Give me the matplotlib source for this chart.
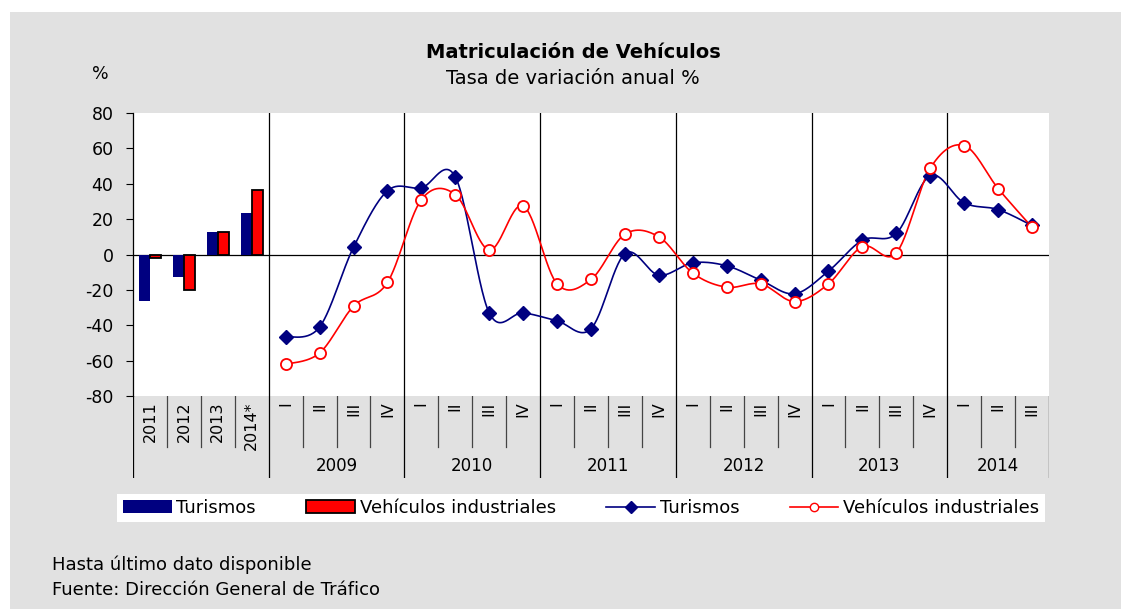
import numpy as np
import matplotlib
matplotlib.use("Agg")
import matplotlib.pyplot as plt
from matplotlib.patches import Rectangle, Patch
from matplotlib.lines import Line2D

plt.rcParams['font.family'] = ['DejaVu Sans']
plt.rcParams['axes.unicode_minus'] = False

# datos anuales (barras)
annual_labels = ["2011", "2012", "2013", "2014*"]
bar_turismos = [-26.4, -12.8, 12.8, 23.5]
bar_industriales = [-2.0, -20.0, 13.0, 36.7]

# datos trimestrales (lineas)
years = ["2009", "2010", "2011", "2012", "2013", "2014"]
quarters_per_year = [4, 4, 4, 4, 4, 3]
quarter_names = ["I", "II", "III", "IV"]
line_turismos = [-46.7, -41.0, 4.1, 36.0,
                 37.7, 43.9, -33.0, -33.0,
                 -37.5, -42.0, 0.5, -11.7,
                 -4.7, -6.4, -14.5, -22.2,
                 -9.4, 8.1, 11.9, 44.6,
                 29.2, 25.4, 16.4]
line_industriales = [-62.1, -55.7, -29.2, -15.8,
                     31.0, 33.9, 2.6, 27.5,
                     -16.6, -14.1, 11.5, 10.0,
                     -10.5, -18.5, -16.6, -26.6,
                     -16.6, 4.5, 0.9, 48.8,
                     61.6, 37.3, 15.4]

NAVY = "#000080"
RED = "#FF0000"
BG = "#E1E1E1"

W, H = 1121, 609


def smooth(x, y, n=30):
    # curva suavizada tipo Excel (Bezier con puntos de control)
    x = np.asarray(x, float)
    y = np.asarray(y, float)
    px = np.concatenate([[x[0]], x, [x[-1]]])
    py = np.concatenate([[y[0]], y, [y[-1]]])
    xs, ys = [], []
    t = np.linspace(0, 1, n)
    for i in range(len(x) - 1):
        p0 = np.array([px[i + 1], py[i + 1]])
        p3 = np.array([px[i + 2], py[i + 2]])
        c1 = p0 + (p3 - np.array([px[i], py[i]])) / 6
        c2 = p3 - (np.array([px[i + 3], py[i + 3]]) - p0) / 6
        b = ((1 - t) ** 3)[:, None] * p0 + (3 * (1 - t) ** 2 * t)[:, None] * c1 \
            + (3 * (1 - t) * t ** 2)[:, None] * c2 + (t ** 3)[:, None] * p3
        xs.append(b[:, 0])
        ys.append(b[:, 1])
    return np.concatenate(xs), np.concatenate(ys)


fig = plt.figure(figsize=(W / 100, H / 100), dpi=100, facecolor="white")
fig.patches.append(Rectangle((10 / W, 0), 1, 1 - 12 / H, transform=fig.transFigure,
                             facecolor=BG, edgecolor="none", zorder=-10))

left, right = 133 / W, 1049 / W
top, bot = 1 - 113 / H, 1 - 396 / H
ax = fig.add_axes([left, bot, right - left, top - bot])
ax.set_facecolor("white")
n_cat = len(annual_labels) + sum(quarters_per_year)
ax.set_xlim(0, n_cat)
ax.set_ylim(-80, 80)
ax.set_yticks(np.arange(-80, 81, 20))
ax.tick_params(axis="y", direction="out", length=5, width=0.8, labelsize=12.5, pad=9)
ax.set_xticks([])
for s in ["top", "right", "bottom"]:
    ax.spines[s].set_visible(False)
ax.spines["left"].set_linewidth(0.9)

# barras anuales
xb = np.arange(len(annual_labels)) + 0.5
bw = 0.33
ax.bar(xb - bw / 2, bar_turismos, bw, color=NAVY, edgecolor="none", zorder=3)
ax.bar(xb + bw / 2, bar_industriales, bw, color=RED, edgecolor="black", linewidth=1.3, zorder=3)

# lineas trimestrales
xq = np.arange(len(line_turismos)) + len(annual_labels) + 0.5
sx, sy = smooth(xq, line_turismos)
ax.plot(sx, sy, color=NAVY, lw=1.2, zorder=4)
ax.plot(xq, line_turismos, "D", color=NAVY, ms=7, zorder=5)
sx, sy = smooth(xq, line_industriales)
ax.plot(sx, sy, color=RED, lw=1.2, zorder=4)
ax.plot(xq, line_industriales, "o", mfc="white", mec=RED, mew=1.3, ms=8, zorder=5)

ax.axhline(0, color="black", lw=0.9, zorder=2)
year_bounds = np.cumsum([len(annual_labels)] + quarters_per_year)
for xv in year_bounds[:-1]:
    ax.axvline(xv, color="black", lw=0.9, zorder=1)

# zona de etiquetas
lab_bot = 1 - 478 / H
lx = fig.add_axes([left, lab_bot, right - left, bot - lab_bot])
lx.set_xlim(0, n_cat)
lx.set_ylim(1, 0)
lx.axis("off")
short = (447 - 396) / (478 - 396)
for xv in range(n_cat + 1):
    if xv == 0 or xv in year_bounds:
        lx.plot([xv, xv], [0, 1], color="black", lw=0.9)
    else:
        lx.plot([xv, xv], [0, short], color="#444444", lw=0.9)

for i, lab in enumerate(annual_labels):
    lx.text(i + 0.5, 0.07, lab, rotation=90, ha="center", va="top", fontsize=11.5)
k = len(annual_labels)
for y, nq in zip(years, quarters_per_year):
    for q in range(nq):
        lx.text(k + q + 0.5, 0.07, quarter_names[q], rotation=90, ha="center", va="top", fontsize=11.5)
    lx.text(k + nq / 2, 0.85, y, ha="center", va="center", fontsize=12)
    k += nq

# titulos
fig.text(573 / W, 1 - 52 / H, "Matriculación de Vehículos", ha="center", va="center",
         fontsize=14, fontweight="bold")
fig.text(573 / W, 1 - 78 / H, "Tasa de variación anual %", ha="center", va="center", fontsize=14)
fig.text(100 / W, 1 - 74 / H, "%", ha="center", va="center", fontsize=12.5)

# leyenda
handles = [Patch(facecolor=NAVY, edgecolor="none"),
           Patch(facecolor=RED, edgecolor="black", linewidth=1.3),
           Line2D([], [], color=NAVY, marker="D", ms=6, lw=1.2),
           Line2D([], [], color=RED, marker="o", mfc="white", mec=RED, ms=6, lw=1.2)]
labels = ["Turismos", "Vehículos industriales", "Turismos", "Vehículos industriales"]
leg = fig.legend(handles, labels, ncol=4, loc="center", bbox_to_anchor=(581 / W, 1 - 508 / H),
                 frameon=True, fancybox=False, framealpha=1, fontsize=13, handlelength=2.7,
                 handletextpad=0.25, columnspacing=2.8, borderpad=0.3, borderaxespad=0)
leg.get_frame().set_facecolor("white")
leg.get_frame().set_edgecolor("none")

fig.text(52 / W, 1 - 565 / H, "Hasta último dato disponible", ha="left", va="center", fontsize=13)
fig.text(52 / W, 1 - 590 / H, "Fuente: Dirección General de Tráfico", ha="left", va="center", fontsize=13)

fig.savefig("out.png", dpi=100, facecolor=fig.get_facecolor())
